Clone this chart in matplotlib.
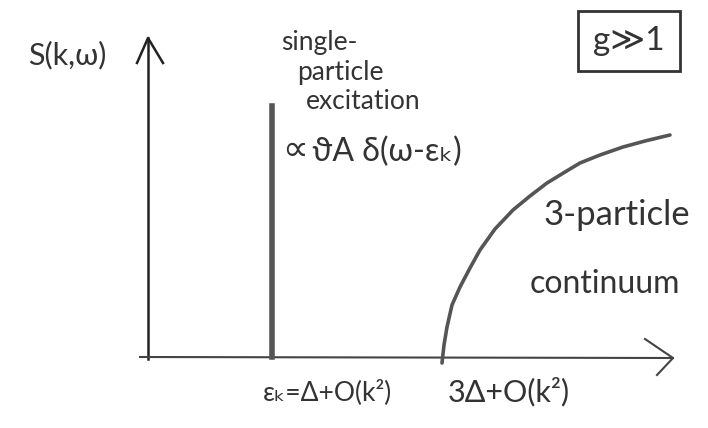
import matplotlib.pyplot as plt

# sketch coordinates (picture pixels: x to the right, y downwards)
origin = (148, 357)
y_axis_top = 38
x_axis_end = 673

peak_pos = 272          # single-particle delta peak
peak_top = 106

cont_x = [442, 444, 447, 452, 460, 470, 480, 495, 513, 530, 547, 565, 580, 600, 623, 645, 670]
cont_y = [363, 345, 327, 305, 287, 268, 250, 229, 210, 196, 183, 172, 163, 155, 147, 141, 135]

peak_label = "\u03d1A \u03b4(\u03c9-\u03b5\u2096)"
peak_name = ["single-", "particle", "excitation"]
name_x = [319, 340, 363]
name_y = [42, 72, 101]
tick_labels = ["\u03b5\u2096=\u0394+O(k\u00b2)", "3\u0394+O(k\u00b2)"]
tick_pos = [327, 509]
tick_size = [19, 22]

plt.rcParams['font.family'] = ['Lato', 'DejaVu Sans']
ink = '#333333'

fig = plt.figure(figsize=(7.08, 4.28), dpi=100)
ax = fig.add_axes([0, 0, 1, 1])
ax.set_xlim(0, 708)
ax.set_ylim(428, 0)
ax.axis('off')

# axes with open arrow heads
ax.plot([origin[0], origin[0]], [origin[1] + 2, y_axis_top], color='#222', lw=1.8)
ax.plot([137, origin[0], 163], [63, y_axis_top, 63], color='#222', lw=1.8)
ax.plot([140, x_axis_end], [origin[1], origin[1] + 1], color='#444', lw=1.5)
ax.plot([645, x_axis_end, 657], [339, 358, 375], color='#444', lw=1.5)

# delta peak and continuum edge
ax.plot([peak_pos, peak_pos], [origin[1], peak_top], color='#555', lw=4)
ax.plot(cont_x, cont_y, color='#555', lw=2.6, solid_capstyle='round')

ax.text(67, 55, "S(k,\u03c9)", fontsize=22, color=ink, ha='center', va='center')
for s, x, y in zip(peak_name, name_x, name_y):
    ax.text(x, y, s, fontsize=19, color=ink, ha='center', va='center')
ax.text(282, 150, "\u221d", fontsize=26, color=ink, ha='left', va='center',
        family='DejaVu Sans')
ax.text(312, 152, peak_label, fontsize=23, color=ink, ha='left', va='center')
ax.text(690, 215, "3-particle", fontsize=25, color=ink, ha='right', va='center')
ax.text(605, 284, "continuum", fontsize=23, color=ink, ha='center', va='center')
ax.text(629, 41, "g\u226b1", fontsize=24, color=ink, ha='center', va='center',
        bbox=dict(boxstyle='square,pad=0.45', fc='white', ec='#333', lw=2))
for p, lab, fs in zip(tick_pos, tick_labels, tick_size):
    ax.text(p, 392, lab, fontsize=fs, color=ink, ha='center', va='center')

plt.savefig("out.png", dpi=100)
